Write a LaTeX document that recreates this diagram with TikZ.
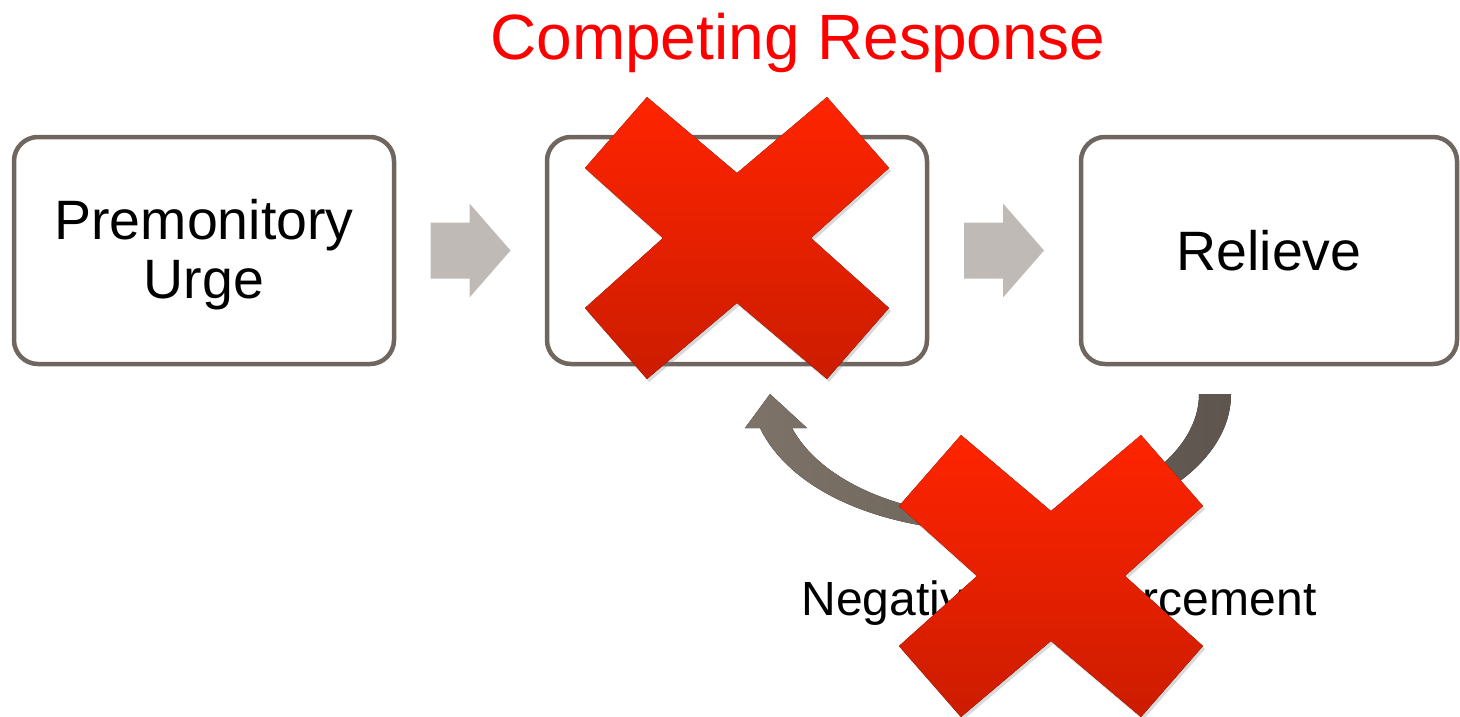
\documentclass[tikz,border=0pt]{standalone}
\usepackage{fontspec}
\setmainfont{Liberation Sans}
\usetikzlibrary{shadows,calc}
\definecolor{boxline}{HTML}{6F675F}
\definecolor{blockgray}{HTML}{BFBAB6}
\definecolor{xtop}{HTML}{FF2400}
\definecolor{xbot}{HTML}{CC1C00}
\definecolor{loopL}{HTML}{7D7368}
\definecolor{loopR}{HTML}{5D554E}
\definecolor{titlered}{HTML}{FF0000}
\begin{document}
\begin{tikzpicture}[x=1pt,y=-1pt,
  stage/.style={draw=boxline, line width=4.5pt, rounded corners=24pt, fill=white,
    minimum width=380pt, minimum height=227pt, align=center,
    font=\fontsize{55.5}{59}\selectfont, inner sep=0pt},
  blockarrow/.style={fill=blockgray, draw=none},
  cross/.style={top color=xtop, bottom color=xbot, draw=none,
    drop shadow={opacity=0.3, shadow xshift=2pt, shadow yshift=-3pt}},
  loop/.style={left color=loopL, right color=loopR, draw=none},
]
\useasboundingbox (0,0) rectangle (1460,717);

% stages
\node[stage] (b1) at (204,250.5) {\rule{0pt}{49pt}Premonitory\\Urge};
\node[stage] (b2) at (737,250.5) {};
\node[stage, minimum width=376pt] (b3) at (1269,250.5) {Relieve};

% block arrows between stages
\coordinate (a1) at ($(b1.east)!0.5!(b2.west)+(-40,0)$);
\coordinate (a2) at ($(b2.east)!0.5!(b3.west)+(-40,0)$);
\foreach \a in {a1,a2}{
  \fill[blockarrow,shift={(\a)}] (0,-28) -- (39,-28) -- (39,-47) -- (80,0)
    -- (39,47) -- (39,28) -- (0,28) -- cycle;
}

% curved feedback arrow from Relieve back to the middle stage
\fill[loop] (1231,394) .. controls (1231,470) and (1130,532) .. (1000,532)
  .. controls (880,532) and (790,490) .. (760,428) -- (745,428) -- (770,394)
  -- (807,428) -- (792,428) .. controls (820,480) and (900,517) .. (1000,517)
  .. controls (1110,517) and (1199,460) .. (1199,394) -- cycle;

\node[anchor=base, font=\fontsize{48}{52}\selectfont] (neg) at (1059,615) {Negative Reinforcement};

% crosses
\foreach \c in {{(737,238)},{(1051,576)}}{
  \fill[cross, shift={\c}] (-90,-141) -- (0,-65) -- (90,-141) -- (152,-70)
    -- (74,0) -- (152,70) -- (90,141) -- (0,65) -- (-90,141) -- (-152,70)
    -- (-74,0) -- (-152,-70) -- cycle;
}

\node[anchor=base, text=titlered, font=\fontsize{64}{70}\selectfont] (title) at (798,60) {Competing Response};
\end{tikzpicture}
\end{document}
